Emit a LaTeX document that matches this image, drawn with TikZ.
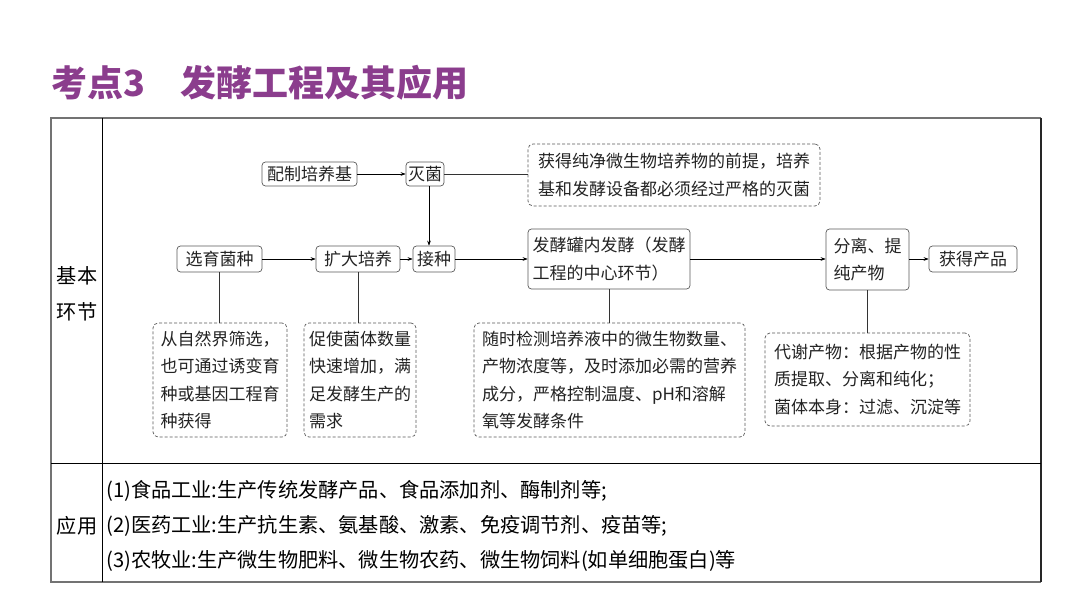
\documentclass[tikz,border=0pt]{standalone}
\usepackage{fontspec}
\setmainfont{Noto Sans CJK SC}
\usetikzlibrary{arrows.meta}
\definecolor{titlepurple}{RGB}{139,61,141}
\definecolor{boxline}{RGB}{90,90,90}
\definecolor{textgray}{RGB}{35,35,35}
\newcommand{\fsbox}{\fontsize{17}{27.3}\selectfont}
\newcommand{\fsrow}{\fontsize{20.2}{24}\selectfont}
\begin{document}
\begin{tikzpicture}[x=1pt,y=-1pt,
  flowbox/.style={draw=boxline, line width=0.7pt, rounded corners=3.5pt, fill=white, font=\fsbox, text=textgray, inner sep=0pt, align=left},
  notebox/.style={draw=boxline, line width=0.7pt, dash pattern=on 3pt off 2pt, rounded corners=5pt, font=\fsbox, text=textgray, inner sep=0pt, align=left},
  arr/.style={-{Stealth[length=5pt,width=3.6pt]}, line width=0.6pt, draw=black},
  link/.style={line width=0.6pt, draw=black!80},
  celltext/.style={font=\fsrow, text=black, inner sep=0pt, anchor=west},
  titletext/.style={font=\fontsize{36}{40}\selectfont\bfseries, text=titlepurple, inner sep=0pt, anchor=west}
]
\useasboundingbox (0,0) rectangle (1080,607);
\fill[white] (0,0) rectangle (1080,607);

% title
\node[titletext] (t1) at (51,83) {考点3};
\node[titletext] (t2) at (180,83) {发酵工程及其应用};

% table
\draw[black!55, line width=1.3pt] (1041,118) -- (51,118) -- (51,582) -- (1041,582);
\draw[black!85, line width=1.2pt] (1041,118) -- (1041,582);
\draw[black, line width=0.8pt] (102,118) -- (102,582);
\draw[black, line width=0.8pt] (51,463) -- (1041,463);

\node[font=\fsrow, inner sep=0pt] (l1) at (77,276) {基本};
\node[font=\fsrow, inner sep=0pt] (l2) at (77,312) {环节};
\node[font=\fsrow, inner sep=0pt] (l3) at (77,526) {应用};

\node[celltext] (r1) at (106,491) {(1)食品工业:生产传统发酵产品、食品添加剂、酶制剂等;};
\node[celltext] (r2) at (106,526) {(2)医药工业:生产抗生素、氨基酸、激素、免疫调节剂、疫苗等;};
\node[celltext] (r3) at (106,561) {(3)农牧业:生产微生物肥料、微生物农药、微生物饲料(如单细胞蛋白)等};

% flow nodes
\node[flowbox, minimum width=95, minimum height=24] (pz) at (309.5,174) {配制培养基};
\node[flowbox, minimum width=38, minimum height=24] (mj) at (425,174) {灭菌};
\node[notebox, minimum width=292, minimum height=62] (n1) at (674,175) {获得纯净微生物培养物的前提，培养\\基和发酵设备都必须经过严格的灭菌};

\node[flowbox, minimum width=85, minimum height=26] (xy) at (219.5,259) {选育菌种};
\node[flowbox, minimum width=84, minimum height=26] (kd) at (358,259) {扩大培养};
\node[flowbox, minimum width=42, minimum height=26] (jz) at (434,259) {接种};
\node[flowbox, minimum width=162, minimum height=60] (fj) at (609,259) {发酵罐内发酵（发酵\\工程的中心环节）};
\node[flowbox, minimum width=83, minimum height=61] (fl) at (867.5,259.5) {分离、提\\纯产物};
\node[flowbox, minimum width=88, minimum height=26] (hd) at (973,259) {获得产品};

% dashed notes
\node[notebox, minimum width=134, minimum height=114] (b1) at (220,380) {从自然界筛选，\\也可通过诱变育\\种或基因工程育\\种获得};
\node[notebox, minimum width=112, minimum height=114] (b2) at (360,380) {促使菌体数量\\快速增加，满\\足发酵生产的\\需求};
\node[notebox, minimum width=271, minimum height=114] (b3) at (609.5,380) {随时检测培养液中的微生物数量、\\产物浓度等，及时添加必需的营养\\成分，严格控制温度、pH和溶解\\氧等发酵条件};
\node[notebox, minimum width=205, minimum height=93] (b4) at (867.5,379.5) {代谢产物：根据产物的性\\质提取、分离和纯化；\\菌体本身：过滤、沉淀等};

% connectors
\draw[arr] (pz) -- (mj);
\draw[link] (mj) -- (mj -| n1.west);
\draw[arr] ([xshift=4pt]mj.south) -- ([xshift=4pt]mj.south |- jz.north);
\draw[arr] (xy) -- (kd);
\draw[arr] (kd) -- (jz);
\draw[arr] (jz) -- (jz -| fj.west);
\draw[arr] (fj.east |- hd) -- (fl.west |- hd);
\draw[arr] (fl.east |- hd) -- (hd);
\draw[link] (xy.south) -- (xy.south |- b1.north);
\draw[link] (kd.south) -- (kd.south |- b2.north);
\draw[link] (fj.south) -- (fj.south |- b3.north);
\draw[link] (fl.south) -- (fl.south |- b4.north);
\end{tikzpicture}
\end{document}
